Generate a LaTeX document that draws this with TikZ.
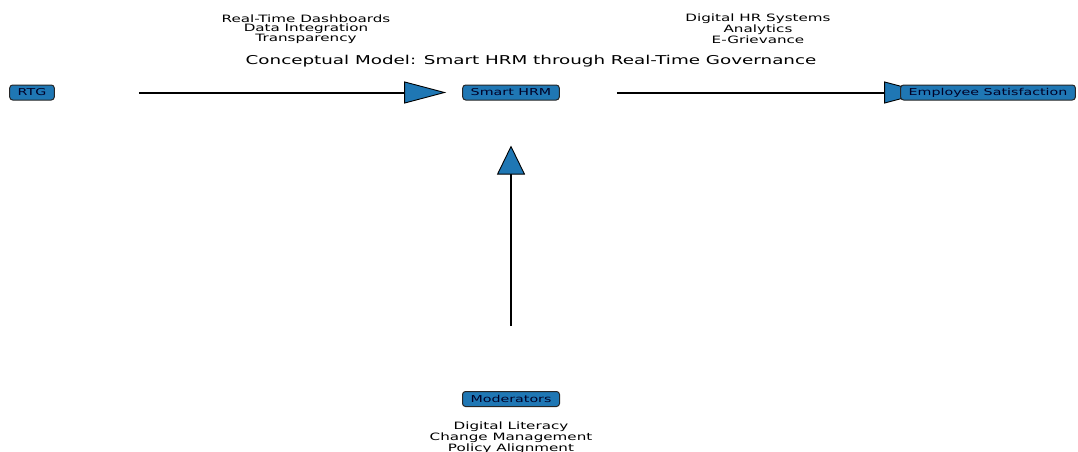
\documentclass[tikz,border=0pt]{standalone}
\usepackage{fontspec}
\setmainfont{DejaVu Sans}[FakeStretch=1.5]
\usetikzlibrary{arrows.meta,backgrounds}
\definecolor{hrmblue}{RGB}{31,119,180}
\newcommand{\boxfont}{\fontsize{9.5}{11}\selectfont}
\newcommand{\notefont}{\fontsize{10.1}{9.6}\selectfont}
\newcommand{\titlefont}{\fontsize{12.2}{14}\selectfont}
\begin{document}
\begin{tikzpicture}[x=1pt,y=-1pt]
        % Define styles for boxes, notes and arrows
        \tikzstyle{hrmbox}=[rectangle, rounded corners=3pt, draw=black!85, line width=1pt, fill=hrmblue, text=black!85!blue, font=\boxfont, minimum height=15pt, inner xsep=8pt, inner ysep=0pt]
        \tikzstyle{note}=[align=center, font=\notefont, inner sep=0pt]
        \tikzstyle{flowh}=[line width=2pt, -{Triangle[length=42pt, width=22pt, fill=hrmblue, line width=0.9pt]}]
        \tikzstyle{flowv}=[line width=2.4pt, -{Triangle[length=29pt, width=28pt, fill=hrmblue, line width=0.9pt]}]

        \useasboundingbox (0,0) rectangle (1078,452);
        \clip (0,0) rectangle (1078,452);

        % Define boxes
        \node[hrmbox] (rtg) at (32,92.5) {RTG};
        \node[hrmbox] (shrm) at (511,92.5) {Smart HRM};
        \node[hrmbox] (es) at (988,92.5) {Employee Satisfaction};
        \node[hrmbox] (mod) at (511,399) {Moderators};

        % Title and notes
        \node[font=\titlefont, inner sep=0pt] (title) at (531,61.5) {Conceptual Model: Smart HRM through Real-Time Governance};
        \node[note] (rtgnote) at (306,29) {Real-Time Dashboards\\Data Integration\\Transparency};
        \node[note] (shrmnote) at (758,29) {Digital HR Systems\\Analytics\\E-Grievance};
        \node[note] (modnote) at (511,437.5) {Digital Literacy\\Change Management\\Policy Alignment};

        % Draw arrows
        \begin{scope}[on background layer]
          \draw[flowh, shorten <=84pt, shorten >=16pt] (rtg) -- (shrm);
          \draw[flowh, shorten <=57pt, shorten >=-26pt] (shrm) -- (es);
          \draw[flowv, shorten <=65pt, shorten >=45pt] (mod) -- (shrm);
        \end{scope}

      \end{tikzpicture}
\end{document}
